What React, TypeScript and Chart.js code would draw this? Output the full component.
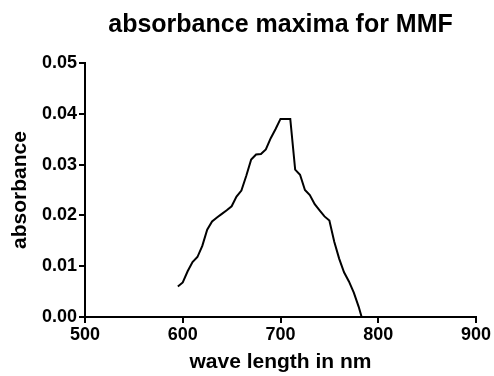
import React, { useEffect, useRef } from "react";
import { Chart, registerables } from "chart.js";

Chart.register(...registerables);

const wavelengths = [
  595, 600, 605, 610, 615, 620, 625, 630, 635, 640, 645, 650, 655, 660, 665, 670, 675, 680, 685, 690,
  695, 700, 705, 710, 715, 720, 725, 730, 735, 740, 745, 750, 755, 760, 765, 770, 775, 780, 783,
];
const absorbance = [
  0.006, 0.0068, 0.009, 0.0108, 0.0118, 0.014, 0.0172, 0.0188, 0.0196, 0.0203, 0.021, 0.0218, 0.0237,
  0.0249, 0.0278, 0.031, 0.032, 0.0321, 0.033, 0.0352, 0.037, 0.039, 0.039, 0.039, 0.029, 0.028, 0.025,
  0.024, 0.0222, 0.021, 0.0198, 0.019, 0.0148, 0.0115, 0.0088, 0.007, 0.0048, 0.002, 0.0,
];
const xTicks = [500, 600, 700, 800, 900];
const yTicks = [0, 0.01, 0.02, 0.03, 0.04, 0.05];

const FONT = "'Liberation Sans', Arial, Helvetica, sans-serif";

export default function App() {
  const ref = useRef<HTMLCanvasElement>(null);
  useEffect(() => {
    document.body.style.margin = "0";
    const ctx = ref.current!;
    const chart = new Chart(ctx, {
      type: "line",
      data: {
        datasets: [
          {
            data: wavelengths.map((w, i) => ({ x: w, y: absorbance[i] })),
            borderColor: "#000",
            borderWidth: 2,
            pointRadius: 0,
            tension: 0,
            fill: false,
          },
        ],
      },
      options: {
        animation: false,
        responsive: false,
        maintainAspectRatio: false,
        layout: { padding: { right: 18, left: 0, top: 0, bottom: 0 } },
        plugins: {
          legend: { display: false },
          tooltip: { enabled: false },
          title: {
            display: true,
            fullSize: false,
            text: "absorbance maxima for MMF",
            color: "#000",
            font: { family: FONT, size: 25, weight: "bold" },
            padding: { top: 10, bottom: 23 },
          },
        },
        scales: {
          x: {
            type: "linear",
            min: xTicks[0],
            max: xTicks[xTicks.length - 1],
            afterBuildTicks: (s: any) => {
              s.ticks = xTicks.map((v) => ({ value: v }));
            },
            afterFit: (s: any) => {
              s.height = 59;
            },
            ticks: {
              color: "#000",
              font: { family: FONT, size: 18, weight: "bold" },
              padding: 1,
              maxRotation: 0,
              autoSkip: false,
            },
            grid: {
              display: true,
              drawOnChartArea: false,
              drawTicks: true,
              tickLength: 6,
              color: "#000",
              lineWidth: 2,
            },
            border: { display: true, color: "#000", width: 2 },
            title: {
              display: true,
              text: "wave length in nm",
              color: "#000",
              font: { family: FONT, size: 21, weight: "bold" },
              padding: { top: 0, bottom: 1 },
            },
          },
          y: {
            type: "linear",
            min: yTicks[0],
            max: yTicks[yTicks.length - 1],
            afterBuildTicks: (s: any) => {
              s.ticks = yTicks.map((v) => ({ value: v }));
            },
            afterFit: (s: any) => {
              s.width = 85;
            },
            ticks: {
              color: "#000",
              font: { family: FONT, size: 18, weight: "bold" },
              padding: 2,
              callback: (v: any) => Number(v).toFixed(2),
            },
            grid: {
              display: true,
              drawOnChartArea: false,
              drawTicks: true,
              tickLength: 6,
              color: "#000",
              lineWidth: 2,
            },
            border: { display: true, color: "#000", width: 2 },
            title: {
              display: true,
              text: "absorbance",
              color: "#000",
              font: { family: FONT, size: 21, weight: "bold" },
              padding: { top: 8, bottom: 0 },
            },
          },
        },
      },
    });
    return () => chart.destroy();
  }, []);
  return (
    <div style={{ width: 494, height: 376, background: "#fff" }}>
      <canvas ref={ref} width={494} height={376} style={{ display: "block" }} />
    </div>
  );
}
